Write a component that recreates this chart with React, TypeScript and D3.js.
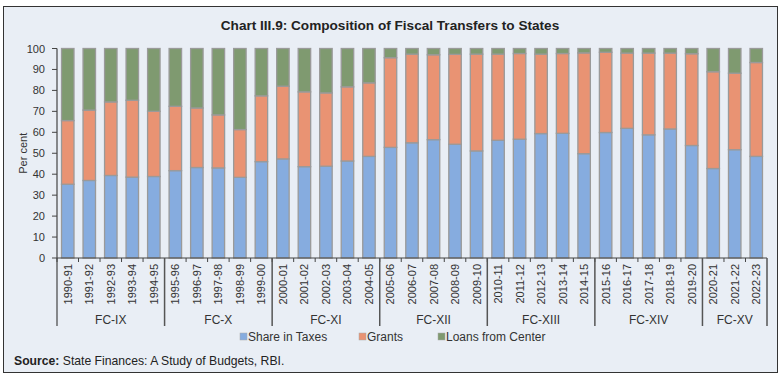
import React from "react";
import * as d3 from "d3";

const years = ["1990-91","1991-92","1992-93","1993-94","1994-95","1995-96","1996-97","1997-98","1998-99","1999-00","2000-01","2001-02","2002-03","2003-04","2004-05","2005-06","2006-07","2007-08","2008-09","2009-10","2010-11","2011-12","2012-13","2013-14","2014-15","2015-16","2016-17","2017-18","2018-19","2019-20","2020-21","2021-22","2022-23"];
const shareInTaxes = [35.2,37.0,39.4,38.6,38.9,41.7,43.2,43.0,38.5,46.0,47.3,43.6,43.8,46.3,48.5,52.8,55.0,56.5,54.3,51.1,56.2,56.7,59.4,59.5,49.8,59.9,61.9,58.8,61.6,53.7,42.7,51.7,48.5];
const grants = [30.4,33.6,35.1,36.7,31.1,30.7,28.4,25.3,22.8,31.4,34.7,35.7,35.0,35.4,35.1,42.8,42.3,40.5,42.9,46.2,41.1,40.9,37.9,38.1,48.1,38.3,35.9,39.0,36.2,43.8,46.2,36.5,44.8];
const loans = shareInTaxes.map((s, i) => Math.max(0, 100 - s - grants[i]));
const groups = [
  { name: "FC-IX", n: 5 },
  { name: "FC-X", n: 5 },
  { name: "FC-XI", n: 5 },
  { name: "FC-XII", n: 5 },
  { name: "FC-XIII", n: 5 },
  { name: "FC-XIV", n: 5 },
  { name: "FC-XV", n: 3 },
];
const seriesNames = ["Share in Taxes", "Grants", "Loans from Center"];
const colors = ["#86acdf", "#e99373", "#7f9a70"];
const yTicks = [0,10,20,30,40,50,60,70,80,90,100];

export default function App() {
  const W = 781, H = 379;
  const left = 57, right = 767, top = 48.5, bottom = 258;
  const x = d3.scaleBand().domain(years).range([left, right]).paddingInner(0.42).paddingOuter(0.21);
  const y = d3.scaleLinear().domain([0, 100]).range([bottom, top]);
  const step = x.step();
  const font = "'Liberation Sans', Arial, sans-serif";

  const rows = years.map((yr, i) => ({ yr, s: shareInTaxes[i], g: grants[i], l: loans[i] }));
  const stack = d3.stack<any>().keys(["s", "g", "l"])(rows);

  let acc = 0;
  const groupPos = groups.map((g) => {
    const start = left + acc * step;
    acc += g.n;
    const end = left + acc * step;
    return { ...g, start, end };
  });

  return (
    <svg width={W} height={H} style={{ position: "absolute", left: 0, top: 0 }} fontFamily={font}>
      <rect x={3.5} y={6.5} width={774} height={366} fill="#e9eef5" stroke="#333" strokeWidth={1} />
      <text x={390} y={30} textAnchor="middle" fontSize={13.6} fontWeight="bold" fill="#222">
        Chart III.9: Composition of Fiscal Transfers to States
      </text>
      {stack.map((layer, li) => (
        <g key={li}>
          {layer.map((d, i) => (
            <rect key={i} x={x(years[i])} y={y(d[1])} width={x.bandwidth()} height={Math.max(0, y(d[0]) - y(d[1]))}
              fill={colors[li]} stroke="#9a9a9a" strokeWidth={1.3} />
          ))}
        </g>
      ))}
      {/* y axis */}
      <line x1={left} x2={left} y1={top} y2={326} stroke="#444" strokeWidth={1.2} />
      {yTicks.map((t) => (
        <g key={t}>
          <line x1={left - 5} x2={left} y1={y(t)} y2={y(t)} stroke="#444" strokeWidth={1} />
          <text x={45} y={y(t) + 4} textAnchor="end" fontSize={11} fill="#333">{t}</text>
        </g>
      ))}
      <text transform={`translate(27,${(top + bottom) / 2}) rotate(-90)`} textAnchor="middle" fontSize={11} fill="#333">Per cent</text>
      {/* x axis */}
      <line x1={left} x2={right} y1={bottom} y2={bottom} stroke="#444" strokeWidth={1.2} />
      {years.map((yr, i) => (
        <g key={yr}>
          <line x1={left + i * step} x2={left + i * step} y1={bottom} y2={bottom + 4} stroke="#444" strokeWidth={1} />
          <text transform={`translate(${x(yr)! + x.bandwidth() / 2 + 4},264) rotate(-90)`} textAnchor="end" fontSize={11} fill="#333">{yr}</text>
        </g>
      ))}
      {groupPos.map((g) => (
        <g key={g.name}>
          <line x1={g.end} x2={g.end} y1={bottom} y2={326} stroke="#555" strokeWidth={1.5} />
          <text x={(g.start + g.end) / 2} y={324} textAnchor="middle" fontSize={12} fill="#333">{g.name}</text>
        </g>
      ))}
      {/* legend */}
      {[{ x: 240, t: seriesNames[0] }, { x: 359, t: seriesNames[1] }, { x: 438, t: seriesNames[2] }].map((l, i) => (
        <g key={i}>
          <rect x={l.x} y={333} width={7} height={7} fill={colors[i]} stroke="#aaa" strokeWidth={0.5} />
          <text x={l.x + 8} y={341} fontSize={12} fill="#333">{l.t}</text>
        </g>
      ))}
      <text x={14} y={365} fontSize={12.2} fill="#222">
        <tspan fontWeight="bold">Source:</tspan> State Finances: A Study of Budgets, RBI.
      </text>
    </svg>
  );
}
